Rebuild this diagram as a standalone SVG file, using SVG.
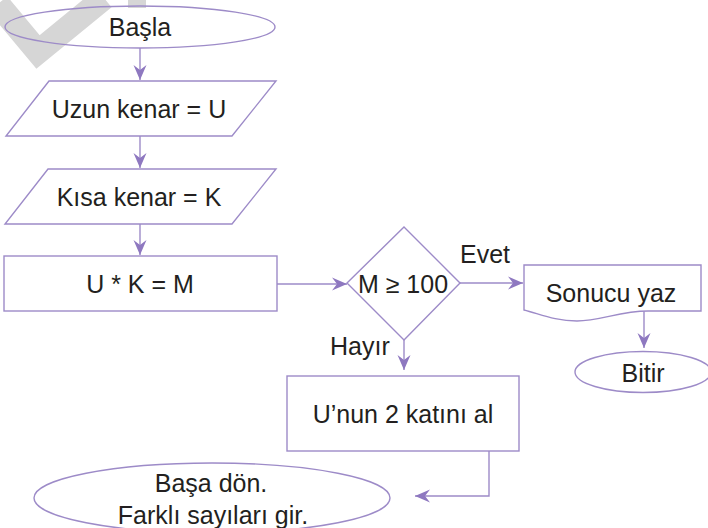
<svg xmlns="http://www.w3.org/2000/svg" width="708" height="528" viewBox="0 0 708 528">
<defs>
<style>
.sh{fill:#fff;stroke:#9d8bc8;stroke-width:1.4}
.ln{fill:none;stroke:#9d8bc8;stroke-width:1.4}
text{font-family:"Liberation Sans",Arial,sans-serif;font-size:25px;fill:#231f20}
.c{text-anchor:middle}
</style>
<marker id="ah" viewBox="-16 -7 17 14" refX="0" refY="0" markerWidth="17" markerHeight="14" markerUnits="userSpaceOnUse" orient="auto">
<path d="M0,0 L-15,-6.5 L-10,0 L-15,6.5 Z" fill="#8e78c0"/>
</marker>
</defs>
<rect width="708" height="528" fill="#fff"/>
<g id="watermark" fill="none" stroke="#d6d6d6" stroke-width="24">
<polyline points="-2,4 38,52 104,-2"/>
<line x1="128" y1="-4" x2="146" y2="-4"/>
</g>
<g id="connectors" class="ln">
<line x1="140" y1="48" x2="140" y2="80" marker-end="url(#ah)"/>
<line x1="140" y1="136" x2="140" y2="168" marker-end="url(#ah)"/>
<line x1="140" y1="224" x2="140" y2="255" marker-end="url(#ah)"/>
<line x1="277" y1="284" x2="347" y2="284" marker-end="url(#ah)"/>
<line x1="460" y1="283" x2="523" y2="283" marker-end="url(#ah)"/>
<line x1="644" y1="311" x2="644" y2="348" marker-end="url(#ah)"/>
<line x1="404" y1="340" x2="404" y2="370" marker-end="url(#ah)"/>
<polyline points="489,451 489,496 415,496" marker-end="url(#ah)"/>
</g>
<g id="start">
<ellipse class="sh" cx="140" cy="27" rx="135" ry="21" fill-opacity="0"/>
<text class="c" x="140" y="36">Başla</text>
</g>
<g id="input-u">
<polygon class="sh" points="49,81 276,81 232,136 6,136"/>
<text class="c" x="139" y="118">Uzun kenar = U</text>
</g>
<g id="input-k">
<polygon class="sh" points="48,169 276,169 232,224 5,224"/>
<text class="c" x="139" y="206">Kısa kenar = K</text>
</g>
<g id="compute">
<rect class="sh" x="4" y="256" width="273" height="55"/>
<text class="c" x="140" y="293">U * K = M</text>
</g>
<g id="decision">
<polygon class="sh" points="404,227 460,283 404,340 347,283"/>
<text class="c" x="403" y="293">M ≥ 100</text>
</g>
<g id="label-evet"><text x="460" y="263">Evet</text></g>
<g id="label-hayir"><text x="330" y="355">Hayır</text></g>
<g id="output">
<path class="sh" d="M524,265 H701 V311 H648 C620,311 600,321 577,321 C555,321 540,314 524,310 Z"/>
<text class="c" x="611" y="302">Sonucu yaz</text>
</g>
<g id="end">
<ellipse class="sh" cx="643" cy="372" rx="68" ry="20.5"/>
<text class="c" x="643" y="382">Bitir</text>
</g>
<g id="double">
<rect class="sh" x="287" y="376" width="232" height="75"/>
<text class="c" x="403" y="423">U’nun 2 katını al</text>
</g>
<g id="restart">
<ellipse class="sh" cx="212" cy="498" rx="178" ry="35"/>
<text class="c" x="211" y="492">Başa dön.</text>
<text class="c" x="213" y="524">Farklı sayıları gir.</text>
</g>
</svg>
